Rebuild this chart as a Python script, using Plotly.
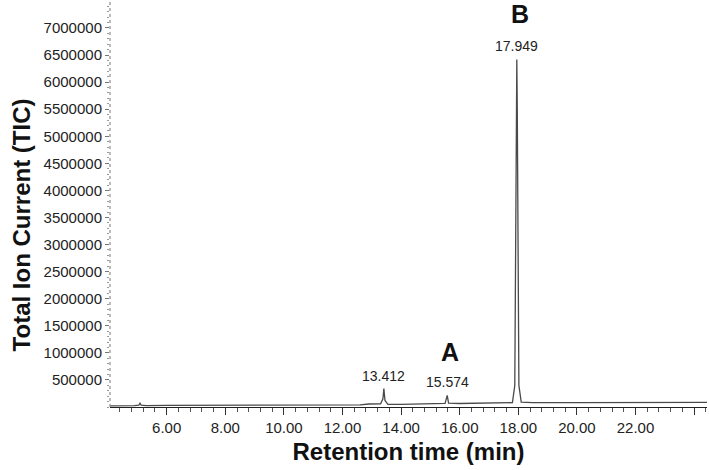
import numpy as np
import plotly.graph_objects as go

# Chromatogram (retention time in min, total ion current)
rt = [4.07, 4.5, 4.9, 5.05, 5.09, 5.13, 5.3, 6.0, 7.0, 8.0, 9.0, 10.0, 11.0, 12.0,
      12.6, 12.9, 13.3, 13.38, 13.412, 13.45, 13.55, 14.0, 15.0, 15.5, 15.574, 15.62,
      16.0, 17.0, 17.8, 17.88, 17.92, 17.935, 17.949, 17.965, 17.98, 18.02, 18.1,
      18.5, 20.0, 22.0, 24.0, 24.44]
tic = [20000, 20000, 25000, 35000, 70000, 35000, 25000, 30000, 30000, 30000, 30000,
       30000, 30000, 35000, 40000, 55000, 60000, 150000, 340000, 120000, 50000, 50000,
       60000, 65000, 215000, 70000, 65000, 70000, 80000, 400000, 3200000, 5500000,
       6420000, 5500000, 3200000, 400000, 90000, 80000, 80000, 85000, 85000, 85000]

peak_rt = [13.412, 15.574, 17.949]
peak_tic = [340000, 215000, 6420000]
peak_labels = ["13.412", "15.574", "17.949"]

letter_labels = ["A", "B"]
letter_x = [15.67, 18.06]
letter_y = [1010000, 7250000]

x_tick_vals = [6, 8, 10, 12, 14, 16, 18, 20, 22, 24]
x_tick_text = ["6.00", "8.00", "10.00", "12.00", "14.00", "16.00", "18.00", "20.00", "22.00", ""]
y_tick_vals = list(range(500000, 7000001, 500000))
y_tick_text = [str(v) for v in y_tick_vals]

FONT = "Liberation Sans, Arial"

fig = go.Figure()
fig.add_trace(go.Scatter(x=rt, y=tic, mode="lines",
                         line=dict(color="#4a4a4a", width=1.3), hoverinfo="skip"))

for x, y, t in zip(peak_rt, peak_tic, peak_labels):
    fig.add_annotation(x=x, y=y, text=t, showarrow=False, yanchor="bottom", yshift=3,
                       font=dict(family=FONT, size=14, color="#222"))
for x, y, t in zip(letter_x, letter_y, letter_labels):
    fig.add_annotation(x=x, y=y, text=f"<b>{t}</b>", showarrow=False,
                       font=dict(family=FONT, size=25, color="#111"))

fig.add_annotation(xref="paper", yref="paper", x=-0.148, y=0.45, xanchor="center",
                   yanchor="middle", text="<b>Total Ion Current (TIC)</b>", textangle=-90,
                   showarrow=False, font=dict(family=FONT, size=24, color="#111"))

# dotted y-axis line
fig.add_shape(type="line", xref="paper", yref="paper", x0=0, x1=0, y0=0, y1=1,
              line=dict(color="#777", width=1, dash="dot"))

fig.update_layout(
    width=709, height=470,
    margin=dict(l=110, r=2, t=2, b=63),
    plot_bgcolor="white", paper_bgcolor="white",
    showlegend=False,
    font=dict(family=FONT, color="#222"),
    xaxis=dict(range=[4.065, 24.44], tickmode="array", tickvals=x_tick_vals,
               ticktext=x_tick_text, ticks="outside", ticklen=7, tickwidth=1,
               tickcolor="#333", showline=True, linecolor="#222", linewidth=1.2,
               showgrid=False, zeroline=False, automargin=False,
               tickfont=dict(size=15, color="#222"),
               minor=dict(tickmode="array", tickvals=list(np.arange(4.4, 24.41, 0.4)),
                          ticks="outside", ticklen=4, tickcolor="#555"),
               title=dict(text="<b>Retention time (min)</b>", standoff=8,
                          font=dict(size=24, color="#111"))),
    yaxis=dict(range=[0, 7.48e6], tickmode="array", tickvals=y_tick_vals,
               ticktext=y_tick_text, ticks="outside", ticklen=4, tickcolor="#777",
               showline=False, showgrid=False, zeroline=False, automargin=False,
               tickfont=dict(size=15, color="#222"),
               minor=dict(dtick=100000, ticks="outside", ticklen=2, tickcolor="#999")),
)

fig.write_html("out.html", config={"displayModeBar": False},
               post_script="document.body.style.margin='0';")
